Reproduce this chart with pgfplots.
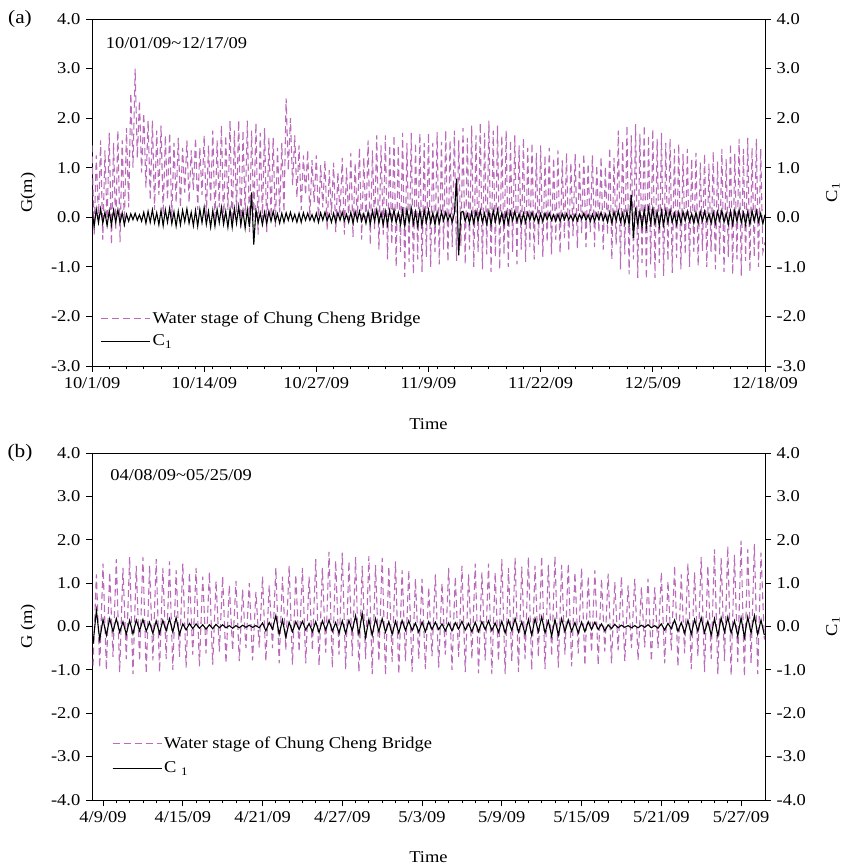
\documentclass[border=0pt]{standalone}
\usepackage{fontspec}
\setmainfont{Liberation Serif}[FakeStretch=1.12]
\usepackage{pgfplots}
\pgfplotsset{compat=1.18}
\usepackage{pgfplotstable}

\definecolor{stage}{RGB}{186,108,186}

% panel (a): x = days since 10/1/09, G = water stage (m), C = C1
\pgfplotstableread{
x G C
0 1.45 0.14
0.25 -0.35 -0.18
0.5 1.25 0.16
0.75 -0.05 -0.11
1 1.55 0.17
1.25 -0.45 -0.12
1.5 1.35 0.10
1.75 -0.15 -0.17
2 1.70 0.13
2.25 -0.55 -0.16
2.5 1.50 0.14
2.75 -0.25 -0.10
3 1.75 0.15
3.25 -0.50 -0.11
3.5 1.55 0.09
3.75 -0.20 -0.15
4 1.80 0.06
4.25 0.20 -0.08
4.5 2.50 0.07
4.75 1.00 -0.05
5 3.00 0.08
5.25 1.20 -0.06
5.5 2.35 0.05
5.75 0.90 -0.08
6 2.10 0.10
6.25 0.60 -0.12
6.5 1.95 0.12
6.75 0.35 -0.10
7 1.95 0.15
7.25 0.15 -0.11
7.5 1.75 0.09
7.75 0.45 -0.15
8 1.85 0.14
8.25 0.05 -0.17
8.5 1.65 0.15
8.75 0.35 -0.10
9 1.70 0.18
9.25 0.00 -0.13
9.5 1.50 0.11
9.75 0.30 -0.18
10 1.60 0.12
10.25 0.20 -0.15
10.5 1.40 0.14
10.75 0.50 -0.09
11 1.55 0.17
11.25 0.30 -0.12
11.5 1.35 0.10
11.75 0.55 -0.17
12 1.60 0.14
12.25 0.15 -0.18
12.5 1.40 0.16
12.75 0.45 -0.11
13 1.65 0.20
13.25 0.00 -0.14
13.5 1.45 0.12
13.75 0.30 -0.20
14 1.75 0.14
14.25 -0.10 -0.18
14.5 1.55 0.16
14.75 0.20 -0.11
15 1.85 0.20
15.25 -0.15 -0.14
15.5 1.65 0.12
15.75 0.15 -0.20
16 1.95 0.16
16.25 -0.20 -0.20
16.5 1.75 0.18
16.75 0.10 -0.12
17 1.95 0.22
17.25 -0.25 -0.15
17.5 1.75 0.13
17.75 0.05 -0.22
18 1.95 0.15
18.25 -0.30 -0.20
18.5 1.75 0.50
18.75 0.00 -0.55
19 1.90 0.15
19.25 -0.35 -0.11
19.5 1.70 0.09
19.75 -0.05 -0.15
20 1.80 0.10
20.25 -0.30 -0.13
20.5 1.60 0.12
20.75 0.00 -0.08
21 1.60 0.12
21.25 -0.20 -0.08
21.5 1.40 0.07
21.75 0.10 -0.12
22 1.50 0.08
22.25 0.10 -0.10
22.5 2.40 0.09
22.75 0.95 -0.06
23 2.00 0.10
23.25 0.65 -0.07
23.5 1.65 0.06
23.75 0.40 -0.10
24 1.45 0.08
24.25 0.15 -0.10
24.5 1.25 0.09
24.75 0.45 -0.06
25 1.35 0.08
25.25 0.00 -0.06
25.5 1.15 0.05
25.75 0.30 -0.08
26 1.25 0.08
26.25 -0.10 -0.10
26.5 1.05 0.09
26.75 0.20 -0.06
27 1.15 0.10
27.25 -0.25 -0.07
27.5 0.95 0.06
27.75 0.05 -0.10
28 1.10 0.08
28.25 -0.30 -0.10
28.5 0.90 0.09
28.75 0.00 -0.06
29 1.20 0.10
29.25 -0.35 -0.07
29.5 1.00 0.06
29.75 -0.05 -0.10
30 1.30 0.10
30.25 -0.40 -0.12
30.5 1.10 0.11
30.75 -0.10 -0.07
31 1.40 0.12
31.25 -0.45 -0.08
31.5 1.20 0.07
31.75 -0.15 -0.12
32 1.55 0.11
32.25 -0.55 -0.14
32.5 1.35 0.13
32.75 -0.25 -0.08
33 1.65 0.15
33.25 -0.65 -0.11
33.5 1.45 0.09
33.75 -0.35 -0.15
34 1.65 0.12
34.25 -0.85 -0.15
34.5 1.45 0.14
34.75 -0.55 -0.09
35 1.65 0.15
35.25 -1.00 -0.11
35.5 1.45 0.09
35.75 -0.70 -0.15
36 1.70 0.14
36.25 -1.20 -0.18
36.5 1.50 0.16
36.75 -0.90 -0.11
37 1.70 0.18
37.25 -1.15 -0.13
37.5 1.50 0.11
37.75 -0.85 -0.18
38 1.70 0.14
38.25 -1.10 -0.17
38.5 1.50 0.15
38.75 -0.80 -0.10
39 1.70 0.15
39.25 -1.00 -0.11
39.5 1.50 0.09
39.75 -0.70 -0.15
40 1.72 0.10
40.25 -0.95 -0.12
40.5 1.52 0.11
40.75 -0.65 -0.07
41 1.75 0.10
41.25 -0.90 -0.07
41.5 1.55 0.06
41.75 -0.60 -0.10
42 1.75 0.08
42.25 -0.88 0.78
42.5 1.55 -0.77
42.75 -0.58 0.10
43 1.80 0.12
43.25 -0.95 -0.08
43.5 1.60 0.07
43.75 -0.65 -0.12
44 1.85 0.10
44.25 -1.00 -0.13
44.5 1.65 0.12
44.75 -0.70 -0.08
45 1.90 0.14
45.25 -1.05 -0.10
45.5 1.70 0.08
45.75 -0.75 -0.14
46 1.95 0.12
46.25 -1.10 -0.15
46.5 1.75 0.14
46.75 -0.80 -0.09
47 1.85 0.15
47.25 -1.05 -0.11
47.5 1.65 0.09
47.75 -0.75 -0.15
48 1.75 0.10
48.25 -1.00 -0.12
48.5 1.55 0.11
48.75 -0.70 -0.07
49 1.65 0.12
49.25 -0.95 -0.08
49.5 1.45 0.07
49.75 -0.65 -0.12
50 1.60 0.08
50.25 -0.90 -0.10
50.5 1.40 0.09
50.75 -0.60 -0.06
51 1.50 0.10
51.25 -0.85 -0.07
51.5 1.30 0.06
51.75 -0.55 -0.10
52 1.45 0.07
52.25 -0.80 -0.09
52.5 1.25 0.08
52.75 -0.50 -0.05
53 1.40 0.08
53.25 -0.75 -0.06
53.5 1.20 0.05
53.75 -0.45 -0.08
54 1.35 0.06
54.25 -0.72 -0.08
54.5 1.15 0.07
54.75 -0.42 -0.05
55 1.30 0.07
55.25 -0.68 -0.05
55.5 1.10 0.04
55.75 -0.38 -0.07
56 1.28 0.06
56.25 -0.62 -0.07
56.5 1.08 0.06
56.75 -0.32 -0.04
57 1.28 0.08
57.25 -0.60 -0.06
57.5 1.08 0.05
57.75 -0.30 -0.08
58 1.25 0.06
58.25 -0.60 -0.08
58.5 1.05 0.07
58.75 -0.30 -0.05
59 1.22 0.10
59.25 -0.65 -0.07
59.5 1.02 0.06
59.75 -0.35 -0.10
60 1.40 0.10
60.25 -0.85 -0.12
60.5 1.20 0.11
60.75 -0.55 -0.07
61 1.75 0.13
61.25 -1.05 -0.09
61.5 1.55 0.08
61.75 -0.75 -0.13
62 1.85 0.12
62.25 -1.15 -0.15
62.5 1.65 0.45
62.75 -0.85 -0.42
63 1.88 0.20
63.25 -1.22 -0.14
63.5 1.68 0.12
63.75 -0.92 -0.20
64 1.85 0.16
64.25 -1.25 -0.20
64.5 1.65 0.18
64.75 -0.95 -0.12
65 1.78 0.18
65.25 -1.22 -0.13
65.5 1.58 0.11
65.75 -0.92 -0.18
66 1.70 0.13
66.25 -1.18 -0.16
66.5 1.50 0.14
66.75 -0.88 -0.10
67 1.58 0.14
67.25 -1.12 -0.10
67.5 1.38 0.08
67.75 -0.82 -0.14
68 1.48 0.10
68.25 -1.05 -0.12
68.5 1.28 0.11
68.75 -0.75 -0.07
69 1.38 0.12
69.25 -1.00 -0.08
69.5 1.18 0.07
69.75 -0.70 -0.12
70 1.30 0.10
70.25 -0.98 -0.12
70.5 1.10 0.11
70.75 -0.68 -0.07
71 1.28 0.12
71.25 -1.00 -0.08
71.5 1.08 0.07
71.75 -0.70 -0.12
72 1.32 0.10
72.25 -1.05 -0.12
72.5 1.12 0.11
72.75 -0.75 -0.07
73 1.38 0.14
73.25 -1.10 -0.10
73.5 1.18 0.08
73.75 -0.80 -0.14
74 1.48 0.12
74.25 -1.15 -0.15
74.5 1.28 0.14
74.75 -0.85 -0.09
75 1.58 0.15
75.25 -1.18 -0.11
75.5 1.38 0.09
75.75 -0.88 -0.15
76 1.60 0.11
76.25 -1.10 -0.14
76.5 1.40 0.13
76.75 -0.80 -0.08
77 1.58 0.13
77.25 -1.00 -0.09
77.5 1.38 0.08
77.75 -0.70 -0.13
78 -0.50 0.05
}\dataA

% panel (b): x = days since 4/9/09
\pgfplotstableread{
x G C
-0.75 -0.90 -0.40
-0.5 1.20 0.37
-0.25 -0.95 -0.30
0 1.45 0.16
0.25 -1.00 -0.20
0.5 1.25 0.18
0.75 -0.70 -0.12
1 1.55 0.18
1.25 -1.05 -0.13
1.5 1.35 0.11
1.75 -0.75 -0.18
2 1.60 0.14
2.25 -1.10 -0.17
2.5 1.40 0.15
2.75 -0.80 -0.10
3 1.60 0.16
3.25 -1.08 -0.11
3.5 1.40 0.10
3.75 -0.78 -0.16
4 1.55 0.13
4.25 -1.05 -0.16
4.5 1.35 0.14
4.75 -0.75 -0.10
5 1.50 0.18
5.25 -1.00 -0.13
5.5 1.30 0.20
5.75 -0.70 -0.18
6 1.45 0.06
6.25 -0.95 -0.08
6.5 1.25 0.07
6.75 -0.65 -0.05
7 1.35 0.06
7.25 -0.92 -0.04
7.5 1.15 0.04
7.75 -0.62 -0.06
8 1.25 0.04
8.25 -0.88 -0.05
8.5 1.05 0.05
8.75 -0.58 -0.03
9 1.15 0.04
9.25 -0.85 -0.03
9.5 0.95 0.02
9.75 -0.55 -0.04
10 1.05 0.02
10.25 -0.80 -0.03
10.5 0.85 0.03
10.75 -0.50 -0.02
11 1.00 0.03
11.25 -0.78 -0.02
11.5 0.80 0.02
11.75 -0.48 -0.03
12 1.15 0.08
12.25 -0.80 -0.10
12.5 0.95 0.09
12.75 -0.50 -0.06
13 1.35 0.25
13.25 -0.85 -0.18
13.5 1.15 0.15
13.75 -0.55 -0.25
14 1.40 0.10
14.25 -0.88 -0.12
14.5 1.20 0.11
14.75 -0.58 -0.07
15 1.35 0.12
15.25 -0.85 -0.08
15.5 1.15 0.07
15.75 -0.55 -0.12
16 1.55 0.11
16.25 -0.90 -0.14
16.5 1.35 0.13
16.75 -0.60 -0.08
17 1.72 0.15
17.25 -0.95 -0.11
17.5 1.52 0.09
17.75 -0.65 -0.15
18 1.70 0.13
18.25 -0.98 -0.16
18.5 1.50 0.14
18.75 -0.68 -0.10
19 1.60 0.25
19.25 -1.05 -0.18
19.5 1.40 0.30
19.75 -0.75 -0.25
20 1.62 0.16
20.25 -1.10 -0.20
20.5 1.42 0.18
20.75 -0.80 -0.12
21 1.58 0.18
21.25 -1.12 -0.13
21.5 1.38 0.11
21.75 -0.82 -0.18
22 1.50 0.12
22.25 -1.10 -0.15
22.5 1.30 0.14
22.75 -0.80 -0.09
23 1.30 0.13
23.25 -1.05 -0.09
23.5 1.10 0.08
23.75 -0.75 -0.13
24 1.10 0.10
24.25 -0.98 -0.12
24.5 0.90 0.11
24.75 -0.68 -0.07
25 1.20 0.10
25.25 -0.95 -0.07
25.5 1.00 0.06
25.75 -0.65 -0.10
26 1.35 0.08
26.25 -1.00 -0.10
26.5 1.15 0.09
26.75 -0.70 -0.06
27 1.40 0.12
27.25 -1.05 -0.08
27.5 1.20 0.07
27.75 -0.75 -0.12
28 1.45 0.10
28.25 -1.08 -0.12
28.5 1.25 0.11
28.75 -0.78 -0.07
29 1.45 0.13
29.25 -1.10 -0.09
29.5 1.25 0.08
29.75 -0.80 -0.13
30 1.55 0.12
30.25 -1.10 -0.15
30.5 1.35 0.14
30.75 -0.80 -0.09
31 1.58 0.18
31.25 -1.05 -0.13
31.5 1.38 0.11
31.75 -0.75 -0.18
32 1.60 0.16
32.25 -1.00 -0.20
32.5 1.40 0.18
32.75 -0.70 -0.12
33 1.62 0.22
33.25 -0.98 -0.15
33.5 1.42 0.13
33.75 -0.68 -0.22
34 1.62 0.16
34.25 -0.95 -0.20
34.5 1.42 0.18
34.75 -0.65 -0.12
35 1.45 0.15
35.25 -0.92 -0.11
35.5 1.25 0.09
35.75 -0.62 -0.15
36 1.35 0.10
36.25 -0.90 -0.12
36.5 1.15 0.11
36.75 -0.60 -0.07
37 1.30 0.10
37.25 -0.88 -0.07
37.5 1.10 0.06
37.75 -0.58 -0.10
38 1.22 0.04
38.25 -0.85 -0.05
38.5 1.02 0.05
38.75 -0.55 -0.03
39 1.15 0.03
39.25 -0.80 -0.02
39.5 0.95 0.02
39.75 -0.50 -0.03
40 1.10 0.02
40.25 -0.78 -0.03
40.5 0.90 0.03
40.75 -0.48 -0.02
41 1.10 0.04
41.25 -0.80 -0.03
41.5 0.90 0.02
41.75 -0.50 -0.04
42 1.25 0.06
42.25 -0.85 -0.08
42.5 1.05 0.07
42.75 -0.55 -0.05
43 1.40 0.15
43.25 -0.92 -0.11
43.5 1.20 0.09
43.75 -0.62 -0.15
44 1.45 0.14
44.25 -0.98 -0.18
44.5 1.25 0.16
44.75 -0.68 -0.11
45 1.60 0.20
45.25 -1.05 -0.14
45.5 1.40 0.12
45.75 -0.75 -0.20
46 1.78 0.18
46.25 -1.10 -0.22
46.5 1.58 0.20
46.75 -0.80 -0.13
47 1.85 0.22
47.25 -1.12 -0.15
47.5 1.65 0.13
47.75 -0.82 -0.22
48 1.98 0.20
48.25 -1.15 -0.25
48.5 1.78 0.22
48.75 -0.85 -0.15
49 1.90 0.25
49.25 -1.10 -0.18
49.5 1.70 0.15
49.75 -0.30 -0.20
}\dataB

\pgfplotsset{
  panel/.style={
    scale only axis, width=673pt, height=347pt,
    tick align=outside,
    major tick length=6pt, minor tick length=3.5pt,
    tick style={black, line width=0.8pt},
    axis line style={line width=0.8pt},
    clip mode=individual,
  },
  stageplot/.style={stage, line width=1.1pt, dash pattern=on 7pt off 4pt},
  c1plot/.style={black, line width=1.1pt},
  legend image code/.code={\draw[#1] (0pt,0pt) -- (43pt,0pt); \path (0pt,0pt) -- (49pt,0pt);},
}

\begin{document}
\fontsize{16.5}{19}\selectfont
\begin{tikzpicture}
\useasboundingbox (0,0) rectangle (846pt,866pt);

% ---------- (a) ----------
\begin{axis}[panel, at={(92pt,500pt)}, anchor=south west,
  xmin=0, xmax=78, ymin=-3, ymax=4,
  xtick={0,13,26,39,52,65,78},
  xticklabels={10/1/09,10/14/09,10/27/09,11/9/09,11/22/09,12/5/09,12/18/09},
  minor xtick={2,4,...,76},
  xtick pos=bottom, ytick pos=left,
  ytick={-3,...,4},
  yticklabels={-3.0,-2.0,-1.0,0.0,1.0,2.0,3.0,4.0},
  xlabel={Time}, ylabel={G(m)},
  xlabel style={at={(rel axis cs:0.5,-0.167)}, anchor=center},
  ylabel style={at={(rel axis cs:-0.095,0.5)}, anchor=center},
  legend style={at={(0.008,0.04)}, anchor=south west, draw=none, fill=none,
    row sep=5pt, cells={anchor=west}},
]
\addplot[stageplot] table[x=x, y=G] {\dataA};
\addlegendentry{Water stage of Chung Cheng Bridge}
\addlegendimage{c1plot, line width=0.8pt}
\addlegendentry{C\textsubscript{1}}
\node[anchor=west] at (rel axis cs:0.012,0.931) {10/01/09\textasciitilde 12/17/09};
\node[font=\fontsize{19}{22}\selectfont] at (rel axis cs:-0.107,1.0) {(a)};
\end{axis}
\begin{axis}[panel, at={(92pt,500pt)}, anchor=south west,
  xmin=0, xmax=78, ymin=-3, ymax=4,
  axis x line=none, axis y line*=right,
  ytick={-3,...,4},
  yticklabels={-3.0,-2.0,-1.0,0.0,1.0,2.0,3.0,4.0},
  ylabel={C\textsubscript{1}},
  ylabel style={at={(rel axis cs:1.101,0.5)}, anchor=center},
]
\addplot[c1plot] table[x=x, y=C] {\dataA};
\end{axis}

% ---------- (b) ----------
\begin{axis}[panel, at={(92pt,66pt)}, anchor=south west,
  xmin=-0.83, xmax=49.8, ymin=-4, ymax=4,
  xtick={0,6,...,48},
  xticklabels={4/9/09,4/15/09,4/21/09,4/27/09,5/3/09,5/9/09,5/15/09,5/21/09,5/27/09},
  minor x tick num=5,
  xtick pos=bottom, ytick pos=left,
  ytick={-4,...,4},
  yticklabels={-4.0,-3.0,-2.0,-1.0,0.0,1.0,2.0,3.0,4.0},
  xlabel={Time}, ylabel={G (m)},
  xlabel style={at={(rel axis cs:0.5,-0.164)}, anchor=center},
  ylabel style={at={(rel axis cs:-0.095,0.5)}, anchor=center},
  legend style={at={(0.025,0.06)}, anchor=south west, draw=none, fill=none,
    row sep=7pt, cells={anchor=west}},
]
\addplot[stageplot] table[x=x, y=G] {\dataB};
\addlegendentry{Water stage of Chung Cheng Bridge}
\addlegendimage{c1plot, line width=0.8pt}
\addlegendentry{C \textsubscript{1}}
\node[anchor=west] at (rel axis cs:0.019,0.937) {04/08/09\textasciitilde 05/25/09};
\node[font=\fontsize{19}{22}\selectfont] at (rel axis cs:-0.107,1.0) {(b)};
\end{axis}
\begin{axis}[panel, at={(92pt,66pt)}, anchor=south west,
  xmin=-0.83, xmax=49.8, ymin=-4, ymax=4,
  axis x line=none, axis y line*=right,
  ytick={-4,...,4},
  yticklabels={-4.0,-3.0,-2.0,-1.0,0.0,1.0,2.0,3.0,4.0},
  ylabel={C\textsubscript{1}},
  ylabel style={at={(rel axis cs:1.101,0.5)}, anchor=center},
]
\addplot[c1plot] table[x=x, y=C] {\dataB};
\end{axis}
\end{tikzpicture}
\end{document}
